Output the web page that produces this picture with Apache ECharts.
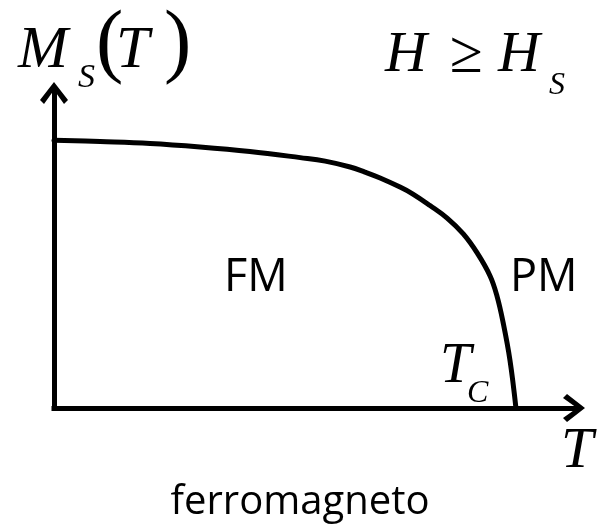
<!DOCTYPE html>
<html>
<head>
<meta charset="utf-8">
<script src="https://cdn.jsdelivr.net/npm/echarts@6/dist/echarts.min.js"></script>
<style>
  html, body { margin: 0; padding: 0; background: #fff; }
  #chart { width: 600px; height: 526px; }
</style>
</head>
<body>
<div id="chart"></div>
<script>
// Reduced temperature T/T_C and reduced saturation magnetization M_S(T)/M_S(0)
const temperature = [0, 0.100, 0.208, 0.316, 0.424, 0.533, 0.587, 0.641, 0.673, 0.706,
                     0.749, 0.777, 0.814, 0.851, 0.886, 0.916, 0.944, 0.959, 0.972, 0.987, 1.0];
const magnetization = [1.0, 0.995, 0.988, 0.975, 0.958, 0.935, 0.922, 0.900, 0.881, 0.859,
                       0.825, 0.799, 0.756, 0.709, 0.650, 0.579, 0.493, 0.418, 0.321, 0.179, 0.0];

const tMax = 1.13;
const mMax = 1.18;

// Open chevron arrow head, tip pointing up (rotated by ECharts per axis)
const arrowHead = 'path://M14,0 L28,18 L24,22 L14,8 L4,22 L0,18 Z';

const axisLine = {
  show: true,
  onZero: true,
  symbol: ['none', arrowHead],
  symbolSize: [28, 22],
  lineStyle: { color: '#000', width: 5, cap: 'square' }
};

const serifItalic = (size) => 'italic ' + size + 'px "Liberation Serif", "DejaVu Serif", serif';
const serif = (size) => size + 'px "Liberation Serif", "DejaVu Serif", serif';
const sans = (size) => size + 'px "Open Sans", "Noto Sans", sans-serif';

function label(text, x, y, font, align) {
  return {
    type: 'text',
    x: x,
    y: y,
    silent: true,
    style: {
      text: text,
      font: font,
      fill: '#000',
      align: align || 'left',
      verticalAlign: 'middle'
    }
  };
}

const chart = echarts.init(document.getElementById('chart'), null, { renderer: 'canvas' });

chart.setOption({
  backgroundColor: '#fff',
  animation: false,
  grid: { left: 54, top: 92, width: 522, height: 316 },
  xAxis: {
    type: 'value',
    min: 0,
    max: tMax,
    axisLine: Object.assign({}, axisLine, { symbolOffset: [0, -2] }),
    axisTick: { show: false },
    axisLabel: { show: false },
    splitLine: { show: false }
  },
  yAxis: {
    type: 'value',
    min: 0,
    max: mMax,
    axisLine: Object.assign({}, axisLine, { symbolOffset: [0, -1] }),
    axisTick: { show: false },
    axisLabel: { show: false },
    splitLine: { show: false }
  },
  series: [{
    type: 'line',
    data: temperature.map((t, i) => [t, magnetization[i]]),
    smooth: 0.4,
    symbol: 'none',
    lineStyle: { color: '#000', width: 5, cap: 'round', join: 'round' },
    z: 1
  }],
  graphic: [
    // M_S(T)
    label('M', 18, 51, serifItalic(60)),
    label('S', 78, 78, serifItalic(34)),
    label('(', 96, 45, serif(82)),
    label('T', 116, 51, serifItalic(60)),
    label(')', 164, 45, serif(82)),
    // H ≥ H_S
    label('H', 385, 56, serifItalic(58)),
    label('\u2265', 450, 56, serif(60)),
    label('H', 498, 56, serifItalic(58)),
    label('S', 549, 86, serifItalic(32)),
    // Phases
    label('FM', 224, 278, sans(45)),
    label('PM', 510, 278, sans(45)),
    // Curie temperature
    label('T', 440, 367, serifItalic(56)),
    label('C', 467, 394, serifItalic(32)),
    // Temperature axis name
    label('T', 561, 452, serifItalic(58)),
    // Caption
    label('ferromagneto', 300, 503, sans(40), 'center')
  ]
});
</script>
</body>
</html>
